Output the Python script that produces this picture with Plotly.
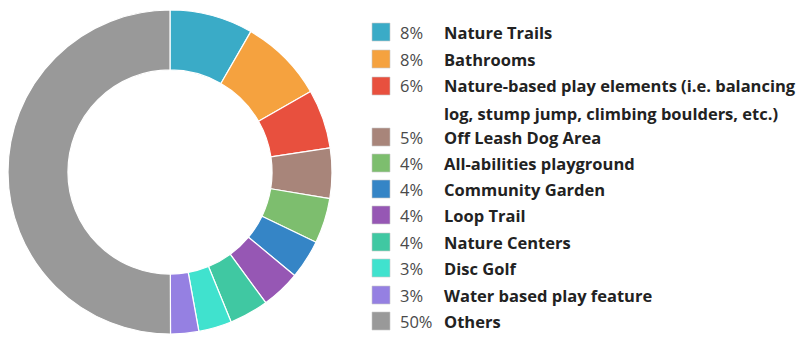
import plotly.graph_objects as go

labels = ["Nature Trails", "Bathrooms",
          "Nature-based play elements (i.e. balancing",
          "Off Leash Dog Area", "All-abilities playground", "Community Garden",
          "Loop Trail", "Nature Centers", "Disc Golf", "Water based play feature", "Others"]
label_cont = {2: "log, stump jump, climbing boulders, etc.)"}
values = [8.3, 8.4, 5.9, 5.0, 4.5, 3.9, 3.9, 3.9, 3.3, 2.8, 50.0]
pct_labels = ["8%", "8%", "6%", "5%", "4%", "4%", "4%", "4%", "3%", "3%", "50%"]
colors = ["#3AABC7", "#F5A23F", "#E8503E", "#A8857A", "#7DBE6E", "#3585C6",
          "#9657B4", "#40C8A2", "#40E2CE", "#9580E2", "#999999"]

# the page body has an 8px margin; work in window pixels and convert
OFF = 8
W, H = 809 - OFF, 337 - OFF


def fx(px):
    return (px - OFF) / W


def fy(py):
    return 1 - (py - OFF) / H


fig = go.Figure()
fig.add_trace(go.Pie(
    labels=labels, values=values, sort=False, direction="clockwise", rotation=0,
    hole=0.63, marker=dict(colors=colors, line=dict(color="white", width=1.2)),
    textinfo="none", showlegend=False, hoverinfo="label+percent",
    domain=dict(x=[fx(8), fx(332)], y=[fy(335), fy(9)]),
))

# custom legend
row_y = [32, 59, 86, 137, 163, 189, 215, 242, 268, 295, 321]
FONT = "Open Sans"
FS = 16.5
shapes, annotations = [], []
for i, (lab, pct, col) in enumerate(zip(labels, pct_labels, colors)):
    y = row_y[i]
    shapes.append(dict(type="rect", xref="paper", yref="paper",
                       x0=fx(372), x1=fx(390), y0=fy(y + 9), y1=fy(y - 9),
                       fillcolor=col, line=dict(color="rgba(200,200,200,0.6)", width=1)))
    annotations.append(dict(x=fx(398), y=fy(y), xref="paper", yref="paper",
                            text=pct, showarrow=False, xanchor="left", yanchor="middle",
                            font=dict(family=FONT, size=FS, color="#4a4a4a")))
    annotations.append(dict(x=fx(442), y=fy(y), xref="paper", yref="paper",
                            text="<b>" + lab + "</b>", showarrow=False,
                            xanchor="left", yanchor="middle",
                            font=dict(family=FONT, size=FS, color="#222222")))
    if i in label_cont:
        annotations.append(dict(x=fx(442), y=fy(y + 27), xref="paper", yref="paper",
                                text="<b>" + label_cont[i] + "</b>", showarrow=False,
                                xanchor="left", yanchor="middle",
                                font=dict(family=FONT, size=FS, color="#222222")))

fig.update_layout(
    width=W, height=H, margin=dict(l=0, r=0, t=0, b=0),
    paper_bgcolor="white", plot_bgcolor="white",
    shapes=shapes, annotations=annotations,
)
fig.write_html("out.html")
